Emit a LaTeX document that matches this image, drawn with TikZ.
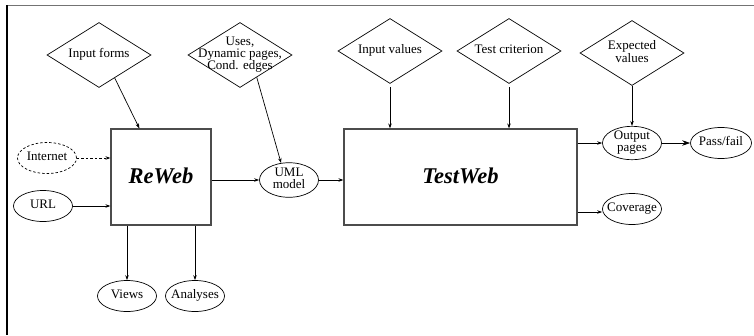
\documentclass[tikz,border=0pt]{standalone}
\usepackage{fontspec}
\setmainfont{Liberation Serif}
\usetikzlibrary{shapes.geometric,arrows.meta,calc}
% zero-width centred stack of lines, so the text never widens its shape
\newcommand\lbl[1]{\makebox[0pt]{\renewcommand\arraystretch{0.96}\begin{tabular}{@{}c@{}}#1\end{tabular}}}
\begin{document}
\begin{tikzpicture}[x=1bp,y=-1bp,
  every node/.style={font=\fontsize{13bp}{12bp}\selectfont},
  decision/.style={diamond,draw,line width=0.7bp,minimum width=104bp,minimum height=65bp,inner sep=0pt},
  store/.style={ellipse,draw,line width=0.7bp,minimum width=59bp,minimum height=31bp,inner sep=0pt},
  tool/.style={rectangle,draw=black!70,line width=1.2bp,inner sep=0pt,minimum height=96bp,
    font=\fontsize{22.5bp}{24bp}\selectfont\bfseries\itshape},
  flow/.style={line width=0.7bp,-{Stealth[length=5bp,width=3.5bp]}},
  bigflow/.style={line width=0.7bp,-{Stealth[length=8bp,width=5.5bp]}},
  dashline/.style={dash pattern=on 2.5bp off 2bp},
]
\useasboundingbox (0,0) rectangle (754,335);
% frame
\draw[black!55,line width=1.6bp] (7,5.5) -- (754,5.5);
\draw[line width=1.3bp] (7,5) -- (7,335);

% inputs (diamonds)
\node[decision] (ifm) at (99,55) {\lbl{Input forms}};
\node[decision] (uses) at (240,55) {\lbl{Uses,\\Dynamic pages,\\Cond. edges}};
\node[decision] (iv) at (390,51) {\lbl{Input values}};
\node[decision] (tc) at (509,51) {\lbl{Test criterion}};
\node[decision] (ev) at (632,53) {\lbl{Expected\\values}};

% tools
\node[tool,minimum width=100bp] (reweb) at (161,177) {\raisebox{2.5bp}{ReWeb}};
\node[tool,minimum width=233bp] (testweb) at (460.5,177) {\raisebox{2.5bp}{TestWeb}};

% data (ellipses)
\node[store,dashline] (inet) at (47,158) {\lbl{Internet}};
\node[store] (url) at (43,206) {\lbl{URL}};
\node[store] (uml) at (289,180) {\lbl{UML\\model}};
\node[store] (views) at (127,296) {\lbl{Views}};
\node[store] (analyses) at (195,296) {\lbl{Analyses}};
\node[store] (outp) at (632,143) {\lbl{Output\\pages}};
\node[store,minimum width=61bp] (pass) at (721,143) {\lbl{Pass/fail}};
\node[store] (cov) at (632,209) {\lbl{Coverage}};

% connectors
\draw[flow] ($(ifm.south)!0.3!(ifm.east)$) -- ([xshift=29bp]reweb.north west);
\draw[flow] ($(uses.south)!0.32!(uses.east)$) -- (uml.115);
\draw[flow,dashline] (inet.east) -- (reweb.west |- inet.east);
\draw[flow] (url.east) -- (reweb.west |- url.east);
\draw[flow] (reweb.east |- uml.west) -- (uml.west);
\draw[flow] (uml.east) -- (testweb.west |- uml.east);
\draw[flow,shorten <=3bp] (iv.south) -- (iv.south |- testweb.north);
\draw[flow,shorten <=3bp] (tc.south) -- (tc.south |- testweb.north);
\draw[flow] (ev.south) -- (outp.north);
\draw[flow] (testweb.east |- outp.west) -- (outp.west);
\draw[bigflow] (outp.east) -- (pass.west);
\coordinate (covin) at ([yshift=-3bp]cov.west);
\draw[flow] (testweb.east |- covin) -- (covin);
\draw[flow] (views.north |- reweb.south) -- (views.north);
\draw[flow] (analyses.north |- reweb.south) -- (analyses.north);
\end{tikzpicture}
\end{document}
